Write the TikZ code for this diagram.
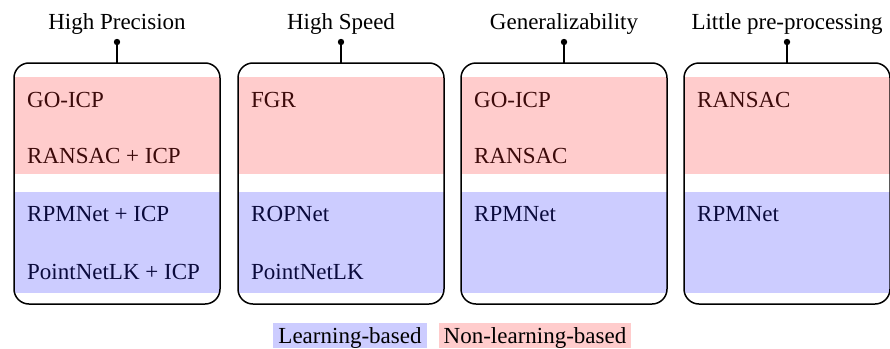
\documentclass[tikz,border=0pt]{standalone}
\usepackage{fontspec}
\setmainfont{Liberation Serif}
\definecolor{pinkfill}{HTML}{FFCCCC}
\definecolor{bluefill}{HTML}{CCCCFF}
\definecolor{redtext}{HTML}{3C0A0A}
\definecolor{bluetext}{HTML}{0A0A3C}
\begin{document}
\begin{tikzpicture}[x=1pt,y=-1pt,
  every node/.style={font=\fontsize{23}{27}\selectfont, inner sep=0pt},
  catbox/.style={draw=black, line width=1.5pt, rounded corners=15pt},
  title/.style={anchor=base},
  redit/.style={anchor=base west, text=redtext},
  blueit/.style={anchor=base west, text=bluetext},
  pin/.style={line width=1.2pt},
  legend/.style={anchor=base, inner xsep=5pt, inner ysep=0pt, text depth=5pt, text height=20pt}
]
\useasboundingbox (0,0) rectangle (890,348);
\foreach \i/\l in {1/14,2/238,3/461,4/684}{
  \pgfmathsetmacro{\r}{\l+206}
  \fill[pinkfill] (\l,77) rectangle (\r,174);
  \fill[bluefill] (\l,192) rectangle (\r,293);
  \draw[catbox] (\l,63) rectangle (\r,304);
  \coordinate (top\i) at ({(\l+\r)/2},63);
  \coordinate (dot\i) at ({(\l+\r)/2},42);
}
\node[title] (t1) at (117,29) {High Precision};
\node[title] (t2) at (341,29) {High Speed};
\node[title] (t3) at (564,29) {Generalizability};
\node[title] (t4) at (787,29) {Little pre-processing};
\foreach \i in {1,2,3,4}{
  \draw[pin] (dot\i) -- (top\i);
  \fill (dot\i) circle (3.2pt);
}
% column 1
\node[redit] (a1) at (27,107) {GO-ICP};
\node[redit] (a2) at (27,163) {RANSAC + ICP};
\node[blueit] (a3) at (27,221) {RPMNet + ICP};
\node[blueit] (a4) at (27,279) {PointNetLK + ICP};
% column 2
\node[redit] (b1) at (251,107) {FGR};
\node[blueit] (b3) at (251,221) {ROPNet};
\node[blueit] (b4) at (251,279) {PointNetLK};
% column 3
\node[redit] (c1) at (474,107) {GO-ICP};
\node[redit] (c2) at (474,163) {RANSAC};
\node[blueit] (c3) at (474,221) {RPMNet};
% column 4
\node[redit] (d1) at (697,107) {RANSAC};
\node[blueit] (d3) at (697,221) {RPMNet};
% legend
\node[legend, fill=bluefill] (l1) at (350,343) {Learning-based};
\node[legend, fill=pinkfill] (l2) at (535,343) {Non-learning-based};
\end{tikzpicture}
\end{document}
